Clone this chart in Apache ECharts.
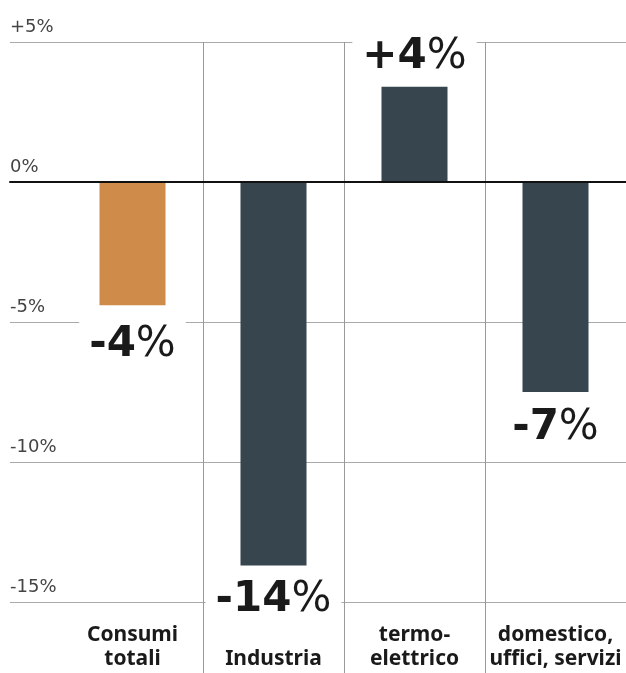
<!DOCTYPE html>
<html>
<head>
<meta charset="utf-8">
<script src="https://cdn.jsdelivr.net/npm/echarts@6/dist/echarts.min.js"></script>
<style>
  html, body { margin: 0; padding: 0; background: #fff; }
  #chart { width: 626px; height: 673px; }
</style>
</head>
<body>
<div id="chart"></div>
<script>
// categorie (a capo come nel grafico originale)
var categories = ['Consumi\ntotali', '\nIndustria', 'termo-\nelettrico', 'domestico,\nuffici, servizi'];
// variazione %
var values = [-4.4, -13.7, 3.4, -7.5];
// etichette stampate sopra/sotto le barre
var valueLabels = ['-4', '-14', '+4', '-7'];
var barColors = ['#cf8b4a', '#37454f', '#37454f', '#37454f'];
var labelGap = [12, 6, 8, 8];

var chart = echarts.init(document.getElementById('chart'));

var barData = values.map(function (v, i) {
    return {
        value: v,
        itemStyle: { color: barColors[i] },
        label: {
            position: v < 0 ? 'bottom' : 'top',
            distance: labelGap[i],
            padding: v < 0 ? [6, 10, 0, 10] : [0, 10]
        }
    };
});

var option = {
    backgroundColor: '#fff',
    animation: false,
    grid: [
        // griglia orizzontale
        { left: 10, right: 0, top: 42, bottom: 71 },
        // barre
        { left: 62, right: -7, top: 42, bottom: 71 }
    ],
    xAxis: [
        {
            gridIndex: 0,
            type: 'category',
            data: [],
            z: 5,
            axisLine: { show: true, onZero: true, lineStyle: { color: '#111', width: 2 } },
            axisTick: { show: false },
            axisLabel: { show: false },
            splitLine: { show: false }
        },
        {
            gridIndex: 1,
            type: 'category',
            data: categories,
            axisLine: { show: true, onZero: false, lineStyle: { color: '#999', opacity: 0 } },
            axisTick: {
                show: true,
                length: 71,
                interval: function (idx) { return idx > 0; },
                lineStyle: { color: '#999', width: 1 }
            },
            splitLine: {
                show: true,
                interval: function (idx) { return idx > 0; },
                lineStyle: { color: '#999', width: 1 }
            },
            axisLabel: {
                interval: 0,
                margin: 21,
                fontFamily: 'Noto Sans',
                fontWeight: 'bold',
                fontSize: 21,
                lineHeight: 24,
                color: '#1a1a1a'
            }
        }
    ],
    yAxis: [
        {
            gridIndex: 0,
            type: 'value',
            min: -15,
            max: 5,
            interval: 5,
            axisLine: { show: false },
            axisTick: { show: false },
            splitLine: { show: true, lineStyle: { color: '#aaa', width: 1 } },
            axisLabel: {
                inside: true,
                margin: 0,
                align: 'left',
                verticalAlign: 'bottom',
                padding: [0, 0, 6, 0],
                fontFamily: 'DejaVu Sans',
                fontSize: 18,
                color: '#444',
                formatter: function (v) { return (v > 0 ? '+' : '') + v + '%'; }
            }
        },
        {
            gridIndex: 1,
            type: 'value',
            min: -15,
            max: 5,
            show: false,
            splitLine: { show: false }
        }
    ],
    series: [
        {
            type: 'bar',
            xAxisIndex: 1,
            yAxisIndex: 1,
            barWidth: 66,
            data: barData,
            label: {
                show: true,
                backgroundColor: '#fff',
                formatter: function (p) {
                    return '{n|' + valueLabels[p.dataIndex] + '}{p|%}';
                },
                rich: {
                    n: { fontFamily: 'DejaVu Sans', fontWeight: 'bold', fontSize: 42, color: '#1a1a1a', lineHeight: 44 },
                    p: { fontFamily: 'DejaVu Sans', fontWeight: 'normal', fontSize: 42, color: '#1a1a1a', lineHeight: 44 }
                }
            }
        }
    ]
};

chart.setOption(option);
</script>
</body>
</html>
